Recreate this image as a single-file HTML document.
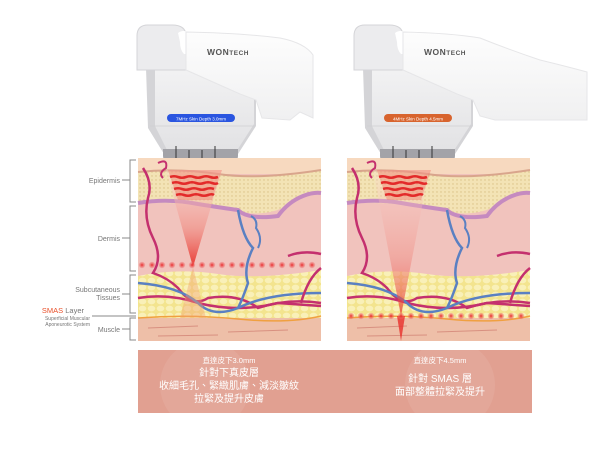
<!DOCTYPE html>
<html><head><meta charset="utf-8"><style>
html,body{margin:0;padding:0;background:#fff;width:600px;height:450px;overflow:hidden}
svg{display:block}
text{font-family:"Liberation Sans","Noto Sans CJK TC",sans-serif}
</style></head><body>
<svg width="600" height="450" viewBox="0 0 600 450" xmlns="http://www.w3.org/2000/svg">
<defs>
<linearGradient id="lower" x1="0" y1="0" x2="0" y2="1"><stop offset="0" stop-color="#f2f2f3"/><stop offset="1" stop-color="#e2e2e4"/></linearGradient>
<linearGradient id="upper" x1="0" y1="0" x2="0" y2="1"><stop offset="0" stop-color="#fdfdfd"/><stop offset="1" stop-color="#f0f0f1"/></linearGradient>
<linearGradient id="cone" x1="0" y1="0" x2="0" y2="1"><stop offset="0" stop-color="#fbe0dc" stop-opacity="0.35"/><stop offset="0.6" stop-color="#f08a80" stop-opacity="0.6"/><stop offset="1" stop-color="#e8302a" stop-opacity="0.95"/></linearGradient>
<pattern id="dots" width="4" height="4" patternUnits="userSpaceOnUse"><rect width="4" height="4" fill="#f3e3b5"/><circle cx="2" cy="2" r="0.7" fill="#d9bf85"/></pattern>
<pattern id="fat" width="9" height="7" patternUnits="userSpaceOnUse"><rect width="9" height="7" fill="#f3e48e"/><ellipse cx="4.5" cy="3.5" rx="3.8" ry="2.9" fill="#f9f0b8"/></pattern>
<radialGradient id="dot"><stop offset="0" stop-color="#e82a2a"/><stop offset="1" stop-color="#f07070" stop-opacity="0.3"/></radialGradient>
<g id="skin">
  <rect x="0" y="0" width="183" height="183" fill="#f1c3bd"/>
  <rect x="0" y="0" width="183" height="16" fill="#f7d9bf"/>
  <path d="M0 14 Q40 10 80 16 T183 12 L183 35 Q150 42 145 50 Q120 60 100 52 Q60 44 0 45Z" fill="url(#dots)"/>
  <path d="M0 45 Q30 40 60 46 Q85 50 100 52 Q110 62 140 58 Q150 44 165 38 Q175 34 183 35" stroke="#c58ac0" stroke-width="4" fill="none"/>
  <path d="M0 14 Q40 10 80 16 T183 12" stroke="#d9a58c" stroke-width="2" fill="none"/>
  <path d="M0 118 Q40 110 80 116 T183 112 L183 160 L0 160Z" fill="url(#fat)"/>
  <rect x="0" y="160" width="183" height="23" fill="#eebfa8"/>
  <path d="M0 160 Q50 156 100 161 T183 158" stroke="#f0a040" stroke-width="1.5" fill="none"/>
  <path d="M10 170 L60 168 M90 174 L150 172 M20 178 L80 177" stroke="#d89080" stroke-width="1" fill="none"/>
</g>
<g id="vessels">
  <path d="M5 10 Q15 25 10 40 Q5 60 15 80 Q25 100 15 115 Q30 120 40 130 Q55 150 70 140 Q100 135 120 150 Q150 140 183 145" stroke="#c4306e" stroke-width="2.5" fill="none"/>
  <path d="M0 140 Q30 135 60 145 Q100 155 140 145 L183 148" stroke="#c4306e" stroke-width="2.5" fill="none"/>
  <path d="M0 125 Q40 128 60 145 Q75 160 100 150 Q130 135 183 135" stroke="#5a80c2" stroke-width="2.5" fill="none"/>
  <path d="M100 52 Q105 80 115 90 Q105 110 110 125 Q105 140 100 150" stroke="#5a80c2" stroke-width="2.5" fill="none"/>
  <path d="M113 58 Q120 62 118 70 Q125 80 120 90" stroke="#5a80c2" stroke-width="2" fill="none"/>
  <path d="M150 98 Q165 92 183 96" stroke="#c4306e" stroke-width="2.5" fill="none"/>
  <path d="M163 145 Q170 120 183 110" stroke="#c4306e" stroke-width="2.5" fill="none"/>
  <path d="M20 5 Q30 0 28 10 Q20 15 25 20" stroke="#c4306e" stroke-width="2" fill="none"/>
</g>
<g id="heat">
  <path d="M30 12 L84 12 L74 42 L40 42Z" fill="#f07a6a" opacity="0.45"/>
  <g stroke="#e32a2a" stroke-width="2.6" fill="none">
    <path d="M32 19 q4 -1.5 8 0 t8 0 t8 0 t8 0 t8 0 t8 0"/>
    <path d="M34 25 q4 -1.5 8 0 t8 0 t8 0 t8 0 t8 0 t6 0"/>
    <path d="M36 31 q4 -1.5 8 0 t8 0 t8 0 t8 0 t8 0"/>
    <path d="M38 37 q4 -1.5 8 0 t8 0 t8 0 t8 0 t6 0"/>
  </g>
</g>
<g id="hpbase">
  <path d="M146 68 L256 68 L256 126 L238 154 L164 154 L148 128Z" fill="#d4d4d7"/>
  <path d="M155 68 L254 68 L254 124 L236 152 L168 152 L155 126Z" fill="url(#lower)"/>
  <path d="M150 126 L255 126" stroke="#cfcfd2" stroke-width="0.8"/>
  <path d="M163 149 L238 149 L238 156 Q238 160 234 160 L167 160 Q163 160 163 156Z" fill="#a3a3a8"/>
  <path d="M176 146 L176 160 M189 150 L189 160 M202 150 L202 160 M215 146 L215 160" stroke="#333" stroke-width="1"/>
  <path d="M137 36 Q137 25 148 25 L172 25 Q186 25 186 36 L186 70 L137 70Z" fill="#ececee" stroke="#d5d5d8"/>
  <path d="M178 33 Q183 29 190 33 L190 46 L200 46 Q204 50 198 54 L184 54 Q180 50 180 42Z" fill="#fff"/>
</g>
</defs>

<use href="#hpbase"/>
<path d="M186 32 Q240 33 280 38 Q305 43 313 55 L313 118 L300 112 L290 120 L262 118 L256 100 L240 94 L186 70 Z" fill="url(#upper)" stroke="#e6e6e8"/>
<text x="207" y="55" font-size="8.5" font-weight="bold" fill="#555" letter-spacing="0.5">WON<tspan font-size="6.5">TECH</tspan></text>
<rect x="167" y="114" width="68" height="8" rx="4" fill="#2a55e0"/>
<text x="201" y="120.5" font-size="4.5" fill="#fff" text-anchor="middle">7MHz Skin Depth 3.0mm</text>

<g transform="translate(217,0)"><use href="#hpbase"/></g>
<path d="M403 32 Q450 33 480 38 Q510 50 540 60 Q565 66 587 72 L587 120 L495 120 L480 116 L473 100 L457 94 L403 70 Z" fill="url(#upper)" stroke="#e6e6e8"/>
<text x="424" y="55" font-size="8.5" font-weight="bold" fill="#555" letter-spacing="0.5">WON<tspan font-size="6.5">TECH</tspan></text>
<rect x="384" y="114" width="68" height="8" rx="4" fill="#d8642e"/>
<text x="418" y="120.5" font-size="4.5" fill="#fff" text-anchor="middle">4MHz Skin Depth 4.5mm</text>

<g transform="translate(138,158)">
  <use href="#skin"/>
  <use href="#vessels"/>
  <path d="M28 12 L84 12 L55 109Z" fill="url(#cone)"/>
  <path d="M55 109 L42 160 L68 160Z" fill="#f3a070" opacity="0.4"/>
  <g fill="url(#dot)">
    <circle cx="4" cy="107" r="3.2"/><circle cx="14" cy="107" r="3.2"/><circle cx="24" cy="107" r="3.2"/><circle cx="34" cy="107" r="3.2"/><circle cx="44" cy="107" r="3.2"/><circle cx="54" cy="107" r="3.2"/><circle cx="64" cy="107" r="3.2"/><circle cx="74" cy="107" r="3.2"/><circle cx="84" cy="107" r="3.2"/><circle cx="94" cy="107" r="3.2"/><circle cx="104" cy="107" r="3.2"/><circle cx="114" cy="107" r="3.2"/><circle cx="124" cy="107" r="3.2"/><circle cx="134" cy="107" r="3.2"/><circle cx="144" cy="107" r="3.2"/><circle cx="154" cy="107" r="3.2"/><circle cx="164" cy="107" r="3.2"/><circle cx="174" cy="107" r="3.2"/>
  </g>
  <use href="#heat"/>
</g>
<g transform="translate(347,158)">
  <use href="#skin"/>
  <use href="#vessels"/>
  <path d="M26 12 L82 12 L54 158Z" fill="url(#cone)" opacity="0.75"/>
  <path d="M50 158 L58 158 L54 183Z" fill="#e8302a" opacity="0.8"/>
  <g fill="url(#dot)">
    <circle cx="4" cy="158" r="3.2"/><circle cx="14" cy="158" r="3.2"/><circle cx="24" cy="158" r="3.2"/><circle cx="34" cy="158" r="3.2"/><circle cx="44" cy="158" r="3.2"/><circle cx="54" cy="158" r="3.2"/><circle cx="64" cy="158" r="3.2"/><circle cx="74" cy="158" r="3.2"/><circle cx="84" cy="158" r="3.2"/><circle cx="94" cy="158" r="3.2"/><circle cx="104" cy="158" r="3.2"/><circle cx="114" cy="158" r="3.2"/><circle cx="124" cy="158" r="3.2"/><circle cx="134" cy="158" r="3.2"/><circle cx="144" cy="158" r="3.2"/><circle cx="154" cy="158" r="3.2"/><circle cx="164" cy="158" r="3.2"/><circle cx="174" cy="158" r="3.2"/>
  </g>
  <use href="#heat"/>
</g>

<g stroke="#888" stroke-width="1" fill="none">
  <path d="M136 160 L130 160 L130 202 L136 202"/>
  <path d="M136 206 L130 206 L130 271 L136 271"/>
  <path d="M136 275 L130 275 L130 313 L136 313"/>
  <path d="M136 318 L130 318 L130 340 L136 340"/>
  <path d="M122 180 L130 180 M122 238 L130 238 M122 294 L130 294 M122 329 L130 329 M92 316 L136 316"/>
</g>
<g font-size="7" fill="#777" text-anchor="end">
  <text x="120" y="183">Epidermis</text>
  <text x="120" y="241">Dermis</text>
  <text x="120" y="292">Subcutaneous</text>
  <text x="120" y="300">Tissues</text>
  <text x="120" y="332">Muscle</text>
  <text x="84" y="313" font-size="7.5"><tspan fill="#e8502a">SMAS</tspan> Layer</text>
  <text x="90" y="320" font-size="5">Superficial Muscular</text>
  <text x="90" y="326" font-size="5">Aponeurotic System</text>
</g>

<rect x="138" y="350" width="394" height="63" fill="#e1a091"/>
<circle cx="205" cy="385" r="45" fill="#fff" opacity="0.08"/>
<circle cx="450" cy="385" r="45" fill="#fff" opacity="0.08"/>
<g fill="#fff" text-anchor="middle">
  <text x="229" y="363" font-size="7.5">直達皮下3.0mm</text>
  <text x="229" y="376" font-size="10">針對下真皮層</text>
  <text x="229" y="389" font-size="10">收細毛孔、緊緻肌膚、減淡皺紋</text>
  <text x="229" y="402" font-size="10">拉緊及提升皮膚</text>
  <text x="440" y="363" font-size="7.5">直達皮下4.5mm</text>
  <text x="440" y="382" font-size="10">針對 SMAS 層</text>
  <text x="440" y="395" font-size="10">面部整體拉緊及提升</text>
</g>
</svg>
</body></html>
